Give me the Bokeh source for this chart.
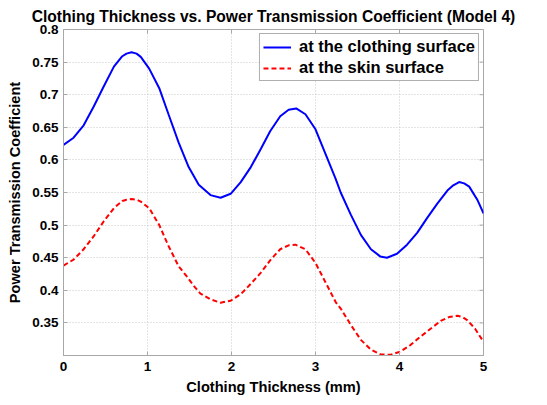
from math import pi
from bokeh.plotting import figure
from bokeh.models import FixedTicker, Range1d, Legend, LegendItem
from bokeh.embed import file_html
from bokeh.resources import INLINE

# Data
x_clothing = [0.0, 0.12, 0.24, 0.36, 0.48, 0.60, 0.70, 0.75, 0.81, 0.87, 0.92, 1.02, 1.14, 1.25, 1.37,
              1.49, 1.61, 1.75, 1.87, 1.99, 2.11, 2.23, 2.35, 2.46, 2.58, 2.68, 2.77, 2.88, 3.0,
              3.12, 3.24, 3.30, 3.42, 3.54, 3.66, 3.77, 3.85, 3.97, 4.09, 4.21, 4.33, 4.45, 4.57,
              4.64, 4.71, 4.77, 4.83, 4.93, 5.0]
y_clothing = [0.623, 0.634, 0.653, 0.682, 0.713, 0.743, 0.759, 0.763, 0.765, 0.763, 0.758, 0.740, 0.710,
              0.670, 0.627, 0.589, 0.562, 0.546, 0.542, 0.548, 0.566, 0.589, 0.617, 0.644, 0.667,
              0.677, 0.679, 0.670, 0.647, 0.609, 0.571, 0.550, 0.516, 0.485, 0.463, 0.452, 0.450,
              0.456, 0.470, 0.488, 0.511, 0.533, 0.553, 0.561, 0.566, 0.564, 0.559, 0.538, 0.518]

x_skin = [0.0, 0.12, 0.24, 0.36, 0.48, 0.60, 0.70, 0.75, 0.81, 0.87, 0.92, 1.02, 1.14, 1.25, 1.37,
          1.47, 1.55, 1.63, 1.75, 1.87, 1.99, 2.11, 2.23, 2.35, 2.46, 2.58, 2.68, 2.76, 2.88, 3.0,
          3.12, 3.24, 3.30, 3.42, 3.54, 3.66, 3.77, 3.89, 4.01, 4.13, 4.25, 4.37, 4.49, 4.59,
          4.69, 4.75, 4.81, 4.90, 5.0]
y_skin = [0.438, 0.447, 0.463, 0.483, 0.506, 0.526, 0.537, 0.539, 0.540, 0.539, 0.536, 0.526, 0.500,
          0.468, 0.437, 0.421, 0.407, 0.395, 0.386, 0.381, 0.384, 0.394, 0.410, 0.427, 0.446,
          0.463, 0.469, 0.470, 0.463, 0.442, 0.412, 0.382, 0.372, 0.347, 0.324, 0.309, 0.302,
          0.301, 0.306, 0.316, 0.329, 0.341, 0.353, 0.359, 0.361, 0.359, 0.354, 0.341, 0.321]

x_ticks = [0, 1, 2, 3, 4, 5]
y_ticks = [0.35, 0.4, 0.45, 0.5, 0.55, 0.6, 0.65, 0.7, 0.75, 0.8]
y_tick_labels = ["0.35", "0.4", "0.45", "0.5", "0.55", "0.6", "0.65", "0.7", "0.75", "0.8"]
x_min, x_max = 0, 5
y_min, y_max = 0.3, 0.8

FONT = "Liberation Sans"
AXIS_COLOR = "#a8a8a8"

p = figure(width=531, height=397, output_backend="svg", toolbar_location=None,
           x_range=Range1d(x_min, x_max), y_range=Range1d(y_min, y_max),
           min_border_left=63, min_border_right=48, min_border_top=29, min_border_bottom=38,
           title="Clothing Thickness vs. Power Transmission Coefficient (Model 4)")

p.title.text_font = FONT
p.title.text_font_style = "bold"
p.title.text_font_size = "15.6px"
p.title.align = "center"
p.title.vertical_align = "top"
p.title.text_color = "black"
p.title.standoff = 6

# grid
p.xgrid.ticker = FixedTicker(ticks=x_ticks)
p.ygrid.ticker = FixedTicker(ticks=y_ticks)
for g in (p.xgrid[0], p.ygrid[0]):
    g.grid_line_color = "#c8c8c8"
    g.grid_line_dash = "1 2"
    g.grid_line_width = 1

r1 = p.line(x_clothing, y_clothing, line_color="#0000ff", line_width=2)
r2 = p.line(x_skin, y_skin, line_color="#ff0000", line_width=2, line_dash="5 3")

# inward ticks on the top and right edges of the box
p.ray(x=x_ticks, y=[y_max] * len(x_ticks), length=4, length_units="screen",
      angle=-pi / 2, line_color=AXIS_COLOR, line_width=1)
p.ray(x=[x_max] * len(y_ticks), y=y_ticks, length=4, length_units="screen",
      angle=pi, line_color=AXIS_COLOR, line_width=1)

# main axes
for ax in (p.xaxis[0], p.yaxis[0]):
    ax.axis_line_color = AXIS_COLOR
    ax.major_tick_line_color = AXIS_COLOR
    ax.major_tick_in = 4
    ax.major_tick_out = 0
    ax.minor_tick_line_color = None
    ax.major_label_text_font = FONT
    ax.major_label_text_font_style = "bold"
    ax.major_label_text_font_size = "13.5px"
    ax.major_label_text_color = "black"
    ax.axis_label_text_font = FONT
    ax.axis_label_text_font_style = "bold"
    ax.axis_label_text_font_size = "14.6px"
    ax.axis_label_text_color = "black"

p.xaxis[0].ticker = FixedTicker(ticks=x_ticks)
p.yaxis[0].ticker = FixedTicker(ticks=y_ticks)
p.yaxis[0].major_label_overrides = {t: s for t, s in zip(y_ticks, y_tick_labels)}
p.xaxis[0].axis_label = "Clothing Thickness (mm)"
p.yaxis[0].axis_label = "Power Transmission Coefficient"
p.xaxis[0].major_label_standoff = 6
p.yaxis[0].major_label_standoff = 5
p.xaxis[0].axis_label_standoff = 5
p.yaxis[0].axis_label_standoff = 6

p.outline_line_color = AXIS_COLOR
p.background_fill_color = "white"
p.border_fill_color = "white"

legend = Legend(items=[LegendItem(label="at the clothing surface", renderers=[r1]),
                       LegendItem(label="at the skin surface", renderers=[r2])],
                location="top_right")
legend.label_text_font = FONT
legend.label_text_font_style = "bold"
legend.label_text_font_size = "16.5px"
legend.label_text_color = "black"
legend.border_line_color = "#606060"
legend.border_line_width = 1
legend.glyph_width = 28
legend.glyph_height = 18
legend.label_height = 18
legend.spacing = 2
legend.padding = 3
legend.margin = 4
legend.label_standoff = 8
legend.background_fill_alpha = 1
p.add_layout(legend, "center")

open("out.html", "w").write(file_html(p, INLINE))
